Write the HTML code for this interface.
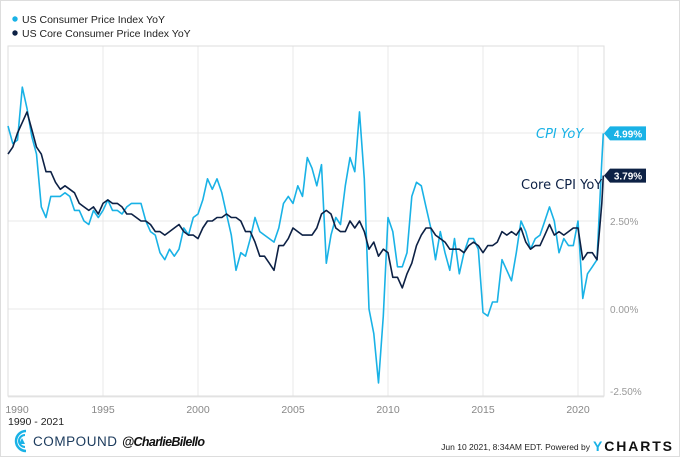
<!DOCTYPE html>
<html><head><meta charset="utf-8"><style>
body{margin:0;background:#fff;}
#root{position:relative;width:678px;height:455px;border:1px solid #ddd;background:#fff;font-family:"Liberation Sans",sans-serif;overflow:hidden;}
svg{position:absolute;left:-1px;top:-1px;}
</style></head><body>
<div id="root">
<svg id="chart" width="680" height="457"></svg>
</div>
<script>
const cpiValues=[5.2,4.7,4.8,6.3, 5.7,4.9,4.4,2.9, 2.6,3.2,3.2,3.2, 3.3,3.2,2.8,2.8, 2.5,2.4,2.8,2.6, 2.8,3.1,2.8,2.8, 2.7,2.9,3.0,3.0, 3.0,2.5,2.2,2.1, 1.6,1.4,1.7,1.5, 1.7,2.3,2.1,2.6, 2.7,3.1,3.7,3.4, 3.7,3.3,2.7,2.1, 1.1,1.6,1.5,2.0, 2.6,2.2,2.1,2.0, 1.9,2.3,3.0,3.2, 3.0,3.5,3.2,4.3, 4.0,3.5,4.1,1.3, 2.1,2.6,2.4,3.5, 4.3,3.9,5.6,3.7, 0.0,-0.7,-2.1,-0.2, 2.6,2.2,1.2,1.2, 1.6,3.2,3.6,3.5, 2.9,2.3,1.4,2.2, 1.6,1.1,2.0,1.0, 1.6,2.0,2.0,1.7, -0.1,-0.2,0.2,0.2, 1.4,1.1,0.8,1.6, 2.5,2.2,1.7,2.0, 2.1,2.5,2.9,2.5, 1.6,2.0,1.8,1.8, 2.5,0.3,1.0,1.2, 1.4,4.2,4.99];
const coreValues=[4.4,4.6,5.0,5.3, 5.6,5.1,4.6,4.4, 3.9,3.9,3.6,3.4, 3.5,3.4,3.3,3.0, 2.9,2.8,2.9,2.7, 3.0,3.1,3.0,3.0, 2.9,2.7,2.7,2.6, 2.5,2.5,2.4,2.2, 2.2,2.1,2.2,2.3, 2.4,2.2,2.1,2.1, 2.0,2.3,2.5,2.5, 2.6,2.6,2.7,2.6, 2.6,2.5,2.2,2.2, 1.9,1.5,1.5,1.3, 1.1,1.8,1.8,2.0, 2.3,2.2,2.1,2.1, 2.1,2.3,2.7,2.8, 2.7,2.3,2.2,2.2, 2.5,2.3,2.5,2.2, 1.7,1.9,1.5,1.7, 1.6,0.9,0.9,0.6, 1.0,1.3,1.8,2.1, 2.3,2.3,2.1,2.0, 1.9,1.7,1.7,1.7, 1.6,1.8,1.9,1.8, 1.6,1.8,1.8,1.9, 2.2,2.1,2.2,2.1, 2.3,1.9,1.7,1.8, 1.8,2.1,2.4,2.1, 2.2,2.1,2.2,2.3, 2.3,1.4,1.6,1.6, 1.4,3.0,3.79];
const dates=[];for(let i=0;i<125;i++)dates.push(1990+i*0.25);dates.push(2021.25,2021.33);
const xTicks=[1990,1995,2000,2005,2010,2015,2020];
const yTicks=[5,2.5,0,-2.5];
const yTickLabels=["5.00%","2.50%","0.00%","-2.50%"];
const cpiLast="4.99%", coreLast="3.79%";

const NS="http://www.w3.org/2000/svg";
const svg=document.getElementById('chart');
const L=8,R=604,T=46,B=396;
const x=t=>L+19*(t-1990);
const y=v=>309-35.2*v;
function el(tag,attrs,parent){const e=document.createElementNS(NS,tag);for(const k in attrs)e.setAttribute(k,attrs[k]);(parent||svg).appendChild(e);return e;}

const lg=[["US Consumer Price Index YoY","#19b2e6",19],["US Core Consumer Price Index YoY","#0d2145",33]];
lg.forEach((d,i)=>{
 const g=el('g',{});
 
 
 el('circle',{cx:15,cy:d[2],r:2.7,fill:d[1]},g);
 const t=el('text',{x:22,y:d[2]+4,'font-size':10.5,fill:'#222'},g);t.textContent=d[0];
});

xTicks.forEach(t=>{
 const l=el('line',{x1:x(t),x2:x(t),y1:T,y2:B,stroke:'#e8e8e8','stroke-width':1});
 
 
 const tx=el('text',{x:t===1990?x(t)+9:x(t),y:413,'font-size':10.5,fill:'#888','text-anchor':'middle'});
 
 
 tx.textContent=t;
});
yTicks.forEach((v,i)=>{
 const l=el('line',{x1:L,x2:R,y1:y(v),y2:y(v),stroke:'#e8e8e8','stroke-width':1});
 
 
 const tx=el('text',{x:610,y:y(v)+(v===-2.5?-2:4),'font-size':10,fill:'#999'});
 
 
 tx.textContent=yTickLabels[i];
});
const fr=el('rect',{x:L,y:T,width:R-L,height:B-T,fill:'none',stroke:'#ddd'});



function line(vals,color,name){
 const d=vals.map((v,i)=>(i?'L':'M')+x(dates[i]).toFixed(1)+','+y(v).toFixed(1)).join('');
 const p=el('path',{d:d,fill:'none',stroke:color,'stroke-width':1.6,'stroke-linejoin':'round'});
 
 
}
line(cpiValues,'#19b2e6','cpi-line');
line(coreValues,'#0d2145','core-cpi-line');

function badge(v,txt,color,name){
 const yy=y(v);
 const g=el('g',{});
 
 
 el('path',{d:`M604,${yy} L610,${yy-7} L646,${yy-7} L646,${yy+7} L610,${yy+7} Z`,fill:color},g);
 const t=el('text',{x:628,y:yy+4,'font-size':10,'font-weight':'bold',fill:'#fff','text-anchor':'middle'},g);t.textContent=txt;
}
badge(cpiValues[cpiValues.length-1],cpiLast,'#19b2e6','cpi-last-value-badge');
badge(coreValues[coreValues.length-1],coreLast,'#0d2145','core-last-value-badge');

const a1=el('text',{x:536,y:138,'font-size':13,fill:'#19b2e6','font-style':'italic','font-family':'"DejaVu Sans",sans-serif'});


a1.textContent='CPI YoY';
const a2=el('text',{x:521,y:189,'font-size':13,fill:'#0d2145','font-family':'"DejaVu Sans",sans-serif'});


a2.textContent='Core CPI YoY';

const dr=el('text',{x:8,y:425,'font-size':10.5,fill:'#222'});


dr.textContent='1990 - 2021';
const lgo=el('g',{});


el('path',{d:'M26,431 A10,10 0 1 0 26,451',fill:'none',stroke:'#19b2e6','stroke-width':2.5},lgo);
el('path',{d:'M25,435 A6,6 0 1 0 25,447',fill:'none',stroke:'#19b2e6','stroke-width':2},lgo);
el('path',{d:'M19,444 L22,438 L25,444 Z',fill:'#19b2e6'},lgo);
const ct=el('text',{x:33,y:446,'font-size':13.5,fill:'#1b3a5c',textLength:84});


ct.textContent='COMPOUND';
const hd=el('text',{x:122,y:446,'font-size':12.5,'font-weight':'bold','font-style':'italic',fill:'#111',textLength:83});


hd.textContent='@CharlieBilello';
const ts=el('text',{x:590,y:450,'font-size':8.5,fill:'#222','text-anchor':'end'});


ts.textContent='Jun 10 2021, 8:34AM EDT.  Powered by';
const yc=el('text',{x:593,y:451,'font-size':14,'font-weight':'bold',fill:'#111',textLength:79});


yc.innerHTML='<tspan fill="#19b2e6">Y</tspan>CHARTS';
</script>
</body></html>
